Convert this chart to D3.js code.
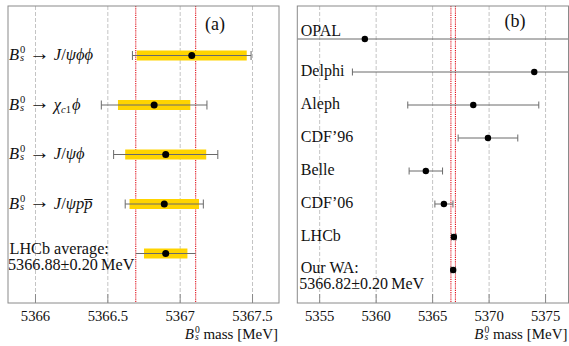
<!DOCTYPE html>
<html><head><meta charset="utf-8">
<script src="https://cdn.jsdelivr.net/npm/d3@7"></script>
<style>html,body{margin:0;padding:0;background:#fff;}svg{display:block;} svg text{font-family:'Liberation Serif','DejaVu Serif',serif;}</style>
</head><body>
<script>
// ---- data: panel (a) LHCb measurements ----
const catsA = ["Jpsiphiphi", "chic1phi", "Jpsiphi", "Jpsippbar", "average"];
const valA  = [5367.08, 5366.82, 5366.90, 5366.89, 5366.90];
const statA = [0.38, 0.25, 0.28, 0.24, 0.15];
const totA  = [0.41, 0.365, 0.36, 0.27, 0.207];
const ticksA = [5366, 5366.5, 5367, 5367.5];
const tickLabelsA = ["5366", "5366.5", "5367", "5367.5"];
// ---- data: panel (b) world measurements ----
const catsB = ["OPAL", "Delphi", "Aleph", "CDF’96", "Belle", "CDF’06", "LHCb", "Our WA:"];
const valB  = [5359.0, 5374.0, 5368.6, 5369.9, 5364.4, 5366.0, 5366.88, 5366.82];
const errB  = [20.2, 16.1, 5.8, 2.64, 1.48, 0.80, 0.20, 0.20];
const ticksB = [5355, 5360, 5365, 5370, 5375];
const tickLabelsB = ["5355", "5360", "5365", "5370", "5375"];
const avgB = {value: 5366.82, err: 0.20};

const W = 569, H = 346;
const FONT = "'Liberation Serif', 'DejaVu Serif', serif";
const svg = d3.select("body").append("svg").attr("width", W).attr("height", H)
  .attr("font-family", FONT);
svg.append("rect").attr("width", W).attr("height", H).attr("fill", "#fff");

const yTop = 6, yBot = 303;
const panA = {x0: 8, x1: 279};
const panB = {x0: 297.3, x1: 568.5};

const xA = d3.scaleLinear().domain([5365.81, 5367.683]).range([panA.x0, panA.x1]);
const xB = d3.scaleLinear().domain([5353.02, 5377.03]).range([panB.x0, panB.x1]);
const yA = d3.scalePoint().domain(catsA).range([yTop, yBot]).padding(1);
const yB = d3.scalePoint().domain(catsB).range([yTop, yBot]).padding(1);

const GRID = "#c4c4c4", FRAME = "#8a8a8a", ERR = "#6a6a6a", RED = "#e0101a", GOLD = "#ffd400", INK = "#111";

// B_s^0 helper: B with stacked superscript 0 and subscript s
function bs(t, size) {
  const small = size * 0.64;
  t.append("tspan").attr("font-style", "italic").text("B");
  t.append("tspan").attr("font-size", small).attr("dx", size * 0.06).attr("dy", -size * 0.4).text("0");
  t.append("tspan").attr("font-size", small).attr("font-style", "italic")
    .attr("dx", -small * 0.5).attr("dy", size * 0.49).text("s");
  return -size * 0.09; // dy needed to return to baseline
}

function panel(g, x, P, ticks, labels) {
  const clipId = "clip" + Math.round(P.x0);
  svg.append("clipPath").attr("id", clipId).append("rect")
    .attr("x", P.x0).attr("y", yTop).attr("width", P.x1 - P.x0).attr("height", yBot - yTop);
  g.append("g").selectAll("line").data(ticks).join("line")
    .attr("x1", d => x(d)).attr("x2", d => x(d)).attr("y1", yTop).attr("y2", yBot)
    .attr("stroke", GRID).attr("stroke-dasharray", "4,2");
  g.append("g").selectAll("line").data(ticks).join("line")
    .attr("x1", d => x(d)).attr("x2", d => x(d)).attr("y1", yBot - 9).attr("y2", yBot)
    .attr("stroke", FRAME);
  g.append("g").selectAll("text").data(ticks).join("text")
    .attr("x", d => x(d)).attr("y", yBot + 18).attr("text-anchor", "middle")
    .attr("font-size", 14.7).attr("fill", INK).text((d, i) => labels[i]);
  const t = g.append("text").attr("x", P.x1 - 1).attr("y", yBot + 36)
    .attr("text-anchor", "end").attr("font-size", 15).attr("fill", INK);
  const back = bs(t, 15);
  t.append("tspan").attr("dy", back).attr("dx", 1).text(" mass [MeV]");
  return clipId;
}

// ---------------- Panel (a) ----------------
const gA = svg.append("g");
const clipA = panel(gA, xA, panA, ticksA, tickLabelsA);
const avgIdx = catsA.length - 1;
const redA = [valA[avgIdx] - totA[avgIdx], valA[avgIdx] + totA[avgIdx]];
gA.append("g").selectAll("line").data(redA).join("line")
  .attr("x1", d => xA(d)).attr("x2", d => xA(d)).attr("y1", yTop).attr("y2", yBot)
  .attr("stroke", RED).attr("stroke-width", 1.1).attr("stroke-dasharray", "1.2,1");
const rowsA = gA.append("g").attr("clip-path", `url(#${clipA})`).selectAll("g").data(catsA).join("g");
rowsA.append("rect")
  .attr("x", (d, i) => xA(valA[i] - statA[i])).attr("width", (d, i) => xA(valA[i] + statA[i]) - xA(valA[i] - statA[i]))
  .attr("y", d => yA(d) - 5).attr("height", 10).attr("fill", GOLD);
rowsA.append("line")
  .attr("x1", (d, i) => xA(valA[i] - totA[i])).attr("x2", (d, i) => xA(valA[i] + totA[i]))
  .attr("y1", d => yA(d)).attr("y2", d => yA(d)).attr("stroke", ERR);
rowsA.each(function (d, i) {
  if (i === avgIdx) return;
  const g = d3.select(this);
  [valA[i] - totA[i], valA[i] + totA[i]].forEach(v => {
    g.append("line").attr("x1", xA(v)).attr("x2", xA(v))
      .attr("y1", yA(d) - 4.5).attr("y2", yA(d) + 4.5).attr("stroke", ERR);
  });
});
rowsA.append("circle").attr("cx", (d, i) => xA(valA[i])).attr("cy", d => yA(d)).attr("r", 3.5).attr("fill", "#000");

const MS = 16.5;
function decay(cat, y) {
  const t = gA.append("text").attr("x", panA.x0 + 1).attr("y", y + 4.5).attr("font-size", MS).attr("fill", INK);
  const back = bs(t, MS);
  t.append("tspan").attr("dy", back - 0.5).attr("dx", 5).attr("font-size", MS * 1.25).text("→");
  const it = (s, dx, dy) => t.append("tspan").attr("font-style", "italic").attr("dx", dx || 0).attr("dy", dy || 0).text(s);
  if (cat === "chic1phi") {
    it("χ", 4, 0.5);
    t.append("tspan").attr("font-size", MS * 0.64).attr("font-style", "italic").attr("dy", 3.5).text("c");
    t.append("tspan").attr("font-size", MS * 0.64).text("1");
    t.append("tspan").attr("font-style", "italic").attr("dx", 1).attr("dy", -3.5).text("ϕ");
  } else {
    it("J", 4, 0.5);
    t.append("tspan").text("/");
    if (cat === "Jpsiphiphi") it("ψϕϕ");
    else if (cat === "Jpsiphi") it("ψϕ");
    else it("ψpp\u0305");
  }
}
catsA.forEach(c => {
  if (c === "average") {
    gA.append("text").attr("x", panA.x0 + 1.5).attr("y", yA(c)).attr("font-size", 16.2).attr("fill", INK).text("LHCb average:");
    gA.append("text").attr("x", panA.x0).attr("y", yA(c) + 16.5).attr("font-size", 16.2).attr("fill", INK).text("5366.88±0.20\u2009MeV");
  } else decay(c, yA(c));
});
gA.append("text").attr("x", 215).attr("y", 30).attr("text-anchor", "middle").attr("font-size", 18).attr("fill", INK).text("(a)");
gA.append("rect").attr("x", panA.x0).attr("y", yTop).attr("width", panA.x1 - panA.x0).attr("height", yBot - yTop)
  .attr("fill", "none").attr("stroke", FRAME);

// ---------------- Panel (b) ----------------
const gB = svg.append("g");
const clipB = panel(gB, xB, panB, ticksB, tickLabelsB);
gB.append("g").selectAll("line").data([avgB.value - avgB.err, avgB.value + avgB.err]).join("line")
  .attr("x1", d => xB(d)).attr("x2", d => xB(d)).attr("y1", yTop).attr("y2", yBot)
  .attr("stroke", RED).attr("stroke-width", 1.1).attr("stroke-dasharray", "1.2,1");
const rowsB = gB.append("g").attr("clip-path", `url(#${clipB})`).selectAll("g").data(catsB).join("g");
rowsB.append("line")
  .attr("x1", (d, i) => xB(valB[i] - errB[i])).attr("x2", (d, i) => xB(valB[i] + errB[i]))
  .attr("y1", d => yB(d)).attr("y2", d => yB(d)).attr("stroke", ERR);
rowsB.each(function (d, i) {
  const g = d3.select(this);
  [valB[i] - errB[i], valB[i] + errB[i]].forEach(v => {
    g.append("line").attr("x1", xB(v)).attr("x2", xB(v))
      .attr("y1", yB(d) - 3.5).attr("y2", yB(d) + 3.5).attr("stroke", ERR);
  });
});
rowsB.append("circle").attr("cx", (d, i) => xB(valB[i])).attr("cy", d => yB(d)).attr("r", 3.2).attr("fill", "#000");
catsB.forEach((c, i) => {
  const crosses = xB(valB[i] - errB[i]) < panB.x0 + 50;
  const y = yB(c);
  if (c === "Our WA:") {
    gB.append("text").attr("x", panB.x0 + 3.5).attr("y", y + 3).attr("font-size", 16).attr("fill", INK).text("Our WA:");
    gB.append("text").attr("x", panB.x0 + 2).attr("y", y + 18.5).attr("font-size", 16).attr("fill", INK).text("5366.82±0.20\u2009MeV");
  } else {
    gB.append("text").attr("x", panB.x0 + 3.5).attr("y", crosses ? y - 3 : y + 4)
      .attr("font-size", 16).attr("fill", INK).text(c);
  }
});
gB.append("text").attr("x", 515).attr("y", 27).attr("text-anchor", "middle").attr("font-size", 18).attr("fill", INK).text("(b)");
gB.append("rect").attr("x", panB.x0).attr("y", yTop).attr("width", panB.x1 - panB.x0).attr("height", yBot - yTop)
  .attr("fill", "none").attr("stroke", FRAME);
</script>
</body></html>
